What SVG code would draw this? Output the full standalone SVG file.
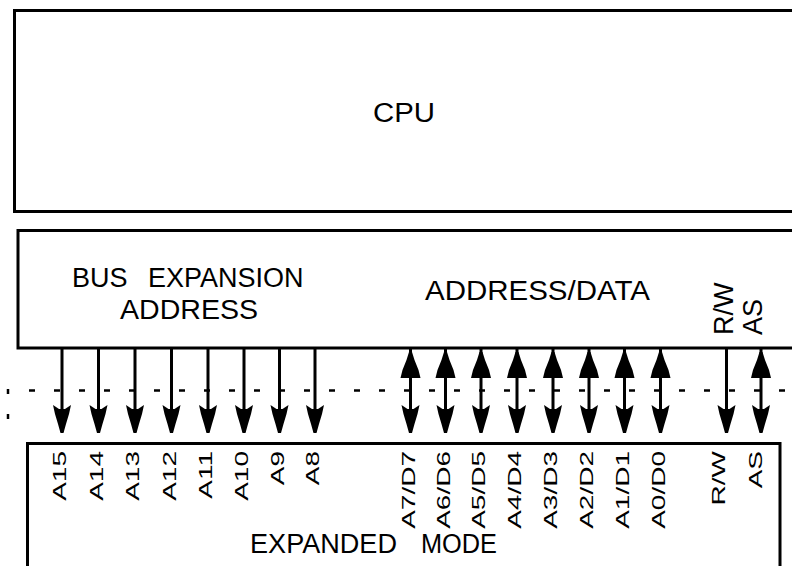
<svg xmlns="http://www.w3.org/2000/svg" xmlns:xlink="http://www.w3.org/1999/xlink" width="792" height="566" viewBox="0 0 792 566">
<style>
.box{fill:#fff;stroke:#000;stroke-width:3}
.t{font-family:"Liberation Sans",Arial,sans-serif;font-size:27px;fill:#000}
.p{font-family:"Liberation Sans",Arial,sans-serif;font-size:28px;fill:#000;text-anchor:end}
.w{stroke:#000;stroke-width:3;fill:none}
.d{stroke:#000;stroke-width:2.5;fill:none;stroke-dasharray:6 19}
</style>
<defs>
<polygon id="dn" points="-9,405 -3,409 3,409 9,405 7,414 4,424 1.5,433 -1.5,433 -4,424 -7,414" fill="#000"/>
<polygon id="up" points="-1.5,352 1.5,352 4,360 8,370 10,378 -10,378 -8,370 -4,360" fill="#000"/>
</defs>
<rect width="792" height="566" fill="#fff"/>

<g id="cpu">
<rect class="box" x="14.5" y="10.5" width="800" height="201"/>
<text class="t" x="373" y="121.5" font-size="29" textLength="62" lengthAdjust="spacingAndGlyphs">CPU</text>
</g>

<g id="bus">
<rect class="box" x="18" y="230.5" width="800" height="117.5"/>
<text class="t" x="72" y="287">BUS <tspan x="148">EXPANSION</tspan></text>
<text class="t" x="120" y="319" textLength="138" lengthAdjust="spacingAndGlyphs">ADDRESS</text>
<text class="t" x="425" y="300" textLength="225" lengthAdjust="spacingAndGlyphs">ADDRESS/DATA</text>
<text class="t" transform="translate(733,335) rotate(-90)" font-size="28">R/W</text>
<text class="t" transform="translate(762,335) rotate(-90)" font-size="28">AS</text>
</g>

<g id="boundary">
<line class="d" x1="29" y1="390.5" x2="792" y2="390.5"/>
<line stroke="#000" stroke-width="2.5" stroke-dasharray="5 20" x1="8" y1="389" x2="8" y2="420"/>
</g>

<g id="expanded">
<rect class="box" x="27.5" y="443.5" width="752.5" height="140"/>
<text class="t" y="553" font-size="26"><tspan x="250" textLength="147" lengthAdjust="spacingAndGlyphs">EXPANDED</tspan> <tspan x="421" textLength="76" lengthAdjust="spacingAndGlyphs">MODE</tspan></text>
<g class="p">
<text transform="translate(66,451) rotate(-90) scale(1,0.68)">A15</text>
<text transform="translate(102.5,451) rotate(-90) scale(1,0.68)">A14</text>
<text transform="translate(139,451) rotate(-90) scale(1,0.68)">A13</text>
<text transform="translate(175.5,451) rotate(-90) scale(1,0.68)">A12</text>
<text transform="translate(212,451) rotate(-90) scale(1,0.68)">A11</text>
<text transform="translate(248,451) rotate(-90) scale(1,0.68)">A10</text>
<text transform="translate(283.5,451) rotate(-90) scale(1,0.68)">A9</text>
<text transform="translate(319,451) rotate(-90) scale(1,0.68)">A8</text>
<text transform="translate(414.5,451) rotate(-90) scale(1,0.68)">A7/D7</text>
<text transform="translate(449.5,451) rotate(-90) scale(1,0.68)">A6/D6</text>
<text transform="translate(485,451) rotate(-90) scale(1,0.68)">A5/D5</text>
<text transform="translate(521,451) rotate(-90) scale(1,0.68)">A4/D4</text>
<text transform="translate(557,451) rotate(-90) scale(1,0.68)">A3/D3</text>
<text transform="translate(593,451) rotate(-90) scale(1,0.68)">A2/D2</text>
<text transform="translate(628.5,451) rotate(-90) scale(1,0.68)">A1/D1</text>
<text transform="translate(664.5,451) rotate(-90) scale(1,0.68)">A0/D0</text>
<text transform="translate(725,451) rotate(-90) scale(1,0.68)">R/W</text>
<text transform="translate(762,451) rotate(-90) scale(1,0.68)">AS</text>
</g>
</g>

<g id="connectors">
<path class="w" d="M62,348V432 M98.5,348V432 M135,348V432 M171.5,348V432 M208,348V432 M244,348V432 M279.5,348V432 M315,348V432 M410.5,348V432 M445.5,348V432 M481,348V432 M517,348V432 M553,348V432 M589,348V432 M624.5,348V432 M660.5,348V432 M726.5,348V432 M761,348V432"/>
<use xlink:href="#dn" x="62"/><use xlink:href="#dn" x="98.5"/><use xlink:href="#dn" x="135"/><use xlink:href="#dn" x="171.5"/>
<use xlink:href="#dn" x="208"/><use xlink:href="#dn" x="244"/><use xlink:href="#dn" x="279.5"/><use xlink:href="#dn" x="315"/>
<use xlink:href="#dn" x="410.5"/><use xlink:href="#dn" x="445.5"/><use xlink:href="#dn" x="481"/><use xlink:href="#dn" x="517"/>
<use xlink:href="#dn" x="553"/><use xlink:href="#dn" x="589"/><use xlink:href="#dn" x="624.5"/><use xlink:href="#dn" x="660.5"/>
<use xlink:href="#dn" x="726.5"/><use xlink:href="#dn" x="761"/>
<use xlink:href="#up" x="410.5"/><use xlink:href="#up" x="445.5"/><use xlink:href="#up" x="481"/><use xlink:href="#up" x="517"/>
<use xlink:href="#up" x="553"/><use xlink:href="#up" x="589"/><use xlink:href="#up" x="624.5"/><use xlink:href="#up" x="660.5"/>
<use xlink:href="#up" x="761"/>
</g>
</svg>
